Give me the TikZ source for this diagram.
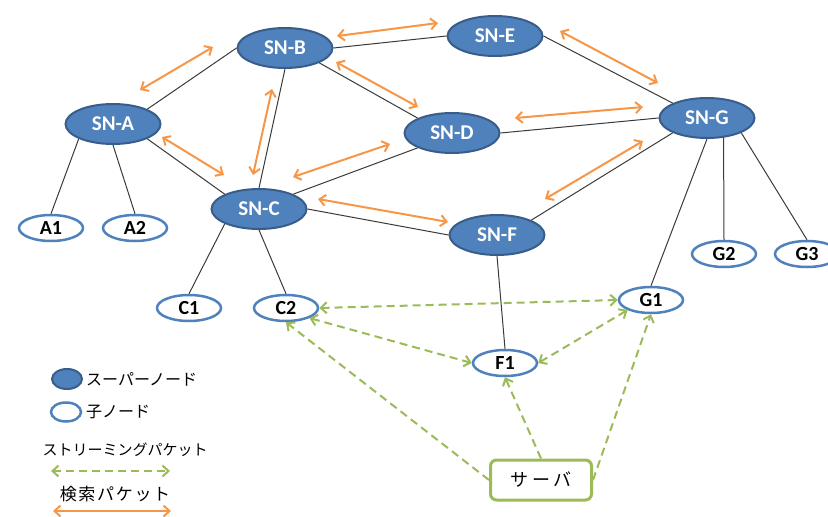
\documentclass[tikz,border=0pt]{standalone}
\usepackage{fontspec}
\newfontfamily\carl{Carlito}
\newfontfamily\jp{Noto Sans CJK JP}
\newfontfamily\jpwA{Noto Sans CJK JP}[LetterSpace=10]
\newfontfamily\jpwB{Noto Sans CJK JP}[LetterSpace=22]
\usetikzlibrary{shapes.geometric,arrows.meta}
\definecolor{snfill}{HTML}{4F81BD}
\definecolor{sndraw}{HTML}{385D8A}
\definecolor{orng}{HTML}{F79646}
\definecolor{grn}{HTML}{9BBB59}
\definecolor{edgec}{HTML}{3A3A3A}
\begin{document}
\begin{tikzpicture}[x=1pt,y=-1pt,
  sn/.style={ellipse,fill=snfill,draw=sndraw,line width=2pt,minimum width=95pt,minimum height=40pt,inner sep=0pt,text=white,font=\carl\bfseries\fontsize{21}{21}\selectfont},
  cn/.style={ellipse,fill=white,draw=snfill,line width=2.5pt,minimum width=64pt,minimum height=26pt,inner sep=0pt,font=\carl\bfseries\fontsize{20}{20}\selectfont},
  link/.style={draw=edgec,line width=1pt},
  search/.style={draw=orng,line width=2pt,{Straight Barb[length=6pt,width=11pt]}-{Straight Barb[length=6pt,width=11pt]}},
  stream/.style={draw=grn,line width=2pt,dash pattern=on 8pt off 5pt},
  both/.style={{Straight Barb[length=6pt,width=11pt]}-{Straight Barb[length=6pt,width=11pt]}},
  tohead/.style={-{Straight Barb[length=6pt,width=11pt]}},
  legtext/.style={anchor=west,inner sep=0pt,font=\jp\fontsize{16}{16}\selectfont}
]
\useasboundingbox (0,0) rectangle (828,517);
\clip (0,0) rectangle (828,517);
% super nodes
\node[sn] (SNA) at (113,124) {SN-A};
\node[sn] (SNB) at (285,48) {SN-B};
\node[sn] (SNE) at (495,36) {SN-E};
\node[sn] (SND) at (452,133) {SN-D};
\node[sn] (SNG) at (707,118) {SN-G};
\node[sn] (SNC) at (259,209) {SN-C};
\node[sn] (SNF) at (497,235) {SN-F};
% child nodes
\node[cn] (A1) at (51,228) {A1};
\node[cn] (A2) at (135,228) {A2};
\node[cn] (C1) at (189,308) {C1};
\node[cn] (C2) at (286,308) {C2};
\node[cn] (G1) at (651,300) {G1};
\node[cn] (F1) at (505,363) {F1};
\node[cn] (G2) at (724,254) {G2};
\node[cn] (G3) at (807,254) {G3};
% server
\node[draw=grn,line width=3pt,rounded corners=6pt,minimum width=101pt,minimum height=40pt,inner sep=0pt,font=\jpwB\fontsize{18}{18}\selectfont] (SRV) at (541,480) {サーバ};
% links
\draw[link] (SNA.north east) -- (SNB.west);
\draw[link] (SNA.south east) -- (SNC.north west);
\draw[link] (SNB.south) -- (SNC.north);
\draw[link] (SNB.east) -- (SNE.west);
\draw[link] (SNB.south east) -- (SND.north west);
\draw[link] (SNC.north east) -- (SND.south west);
\draw[link] (SNC.east) -- (SNF.west);
\draw[link] (SNE.east) -- (SNG.north west);
\draw[link] (SND.east) -- (SNG.west);
\draw[link] (SNF.north east) -- (SNG.south west);
\draw[link] (SNA.south west) -- (A1.north);
\draw[link] (SNA.south) -- (A2.north);
\draw[link] (SNC.south west) -- (C1.north);
\draw[link] (SNC.south) -- (C2.north);
\draw[link] (SNF.south) -- (F1.north);
\draw[link] (SNG.south) -- (G1.north);
\draw[link] (SNG.310) -- (G2.north);
\draw[link] (SNG.south east) -- (G3.north);
% search packets (orange)
\coordinate (o1a) at (140,90);  \coordinate (o1b) at (213,47);
\coordinate (o2a) at (337,36);  \coordinate (o2b) at (438,23);
\coordinate (o3a) at (336,62);  \coordinate (o3b) at (418,107);
\coordinate (o4a) at (162,137); \coordinate (o4b) at (224,175);
\coordinate (o5a) at (253,175); \coordinate (o5b) at (272,89);
\coordinate (o6a) at (293,177); \coordinate (o6b) at (390,144);
\coordinate (o7a) at (318,199); \coordinate (o7b) at (448,222);
\coordinate (o8a) at (560,31);  \coordinate (o8b) at (658,83);
\coordinate (o9a) at (515,118); \coordinate (o9b) at (643,107);
\coordinate (o10a) at (545,199); \coordinate (o10b) at (643,141);
\foreach \i in {1,...,10} \draw[search] (o\i a) -- (o\i b);
% streaming packets (green)
\draw[stream,both] (C2.east) -- (G1.west);
\draw[stream,both] (C2.south east) -- (F1.west);
\draw[stream,tohead] (SRV.west) -- (C2.south);
\draw[stream,tohead] (SRV.north) -- (F1.south);
\draw[stream,tohead] (SRV.east) -- (G1.south);
\draw[stream,both] (F1.east) -- (G1.south west);
% legend
\node[ellipse,fill=snfill,draw=sndraw,line width=2pt,minimum width=30pt,minimum height=20pt,inner sep=0pt] (LS) at (67,379) {};
\node[ellipse,fill=white,draw=snfill,line width=2.5pt,minimum width=30pt,minimum height=19pt,inner sep=0pt] (LC) at (66,412) {};
\node[legtext] (LST) at (86,379) {スーパーノード};
\node[legtext] (LCT) at (86,412) {子ノード};
\node[inner sep=0pt,font=\jp\fontsize{15}{15}\selectfont] (LGT) at (125,450) {ストリーミングパケット};
\coordinate (lg1) at (51,471); \coordinate (lg2) at (170,471);
\draw[stream,both] (lg1) -- (lg2);
\node[inner sep=0pt,font=\jpwA\fontsize{17}{17}\selectfont] (LOT) at (115,494) {検索パケット};
\coordinate (lo1) at (53,511); \coordinate (lo2) at (171,511);
\draw[search] (lo1) -- (lo2);
\end{tikzpicture}
\end{document}
